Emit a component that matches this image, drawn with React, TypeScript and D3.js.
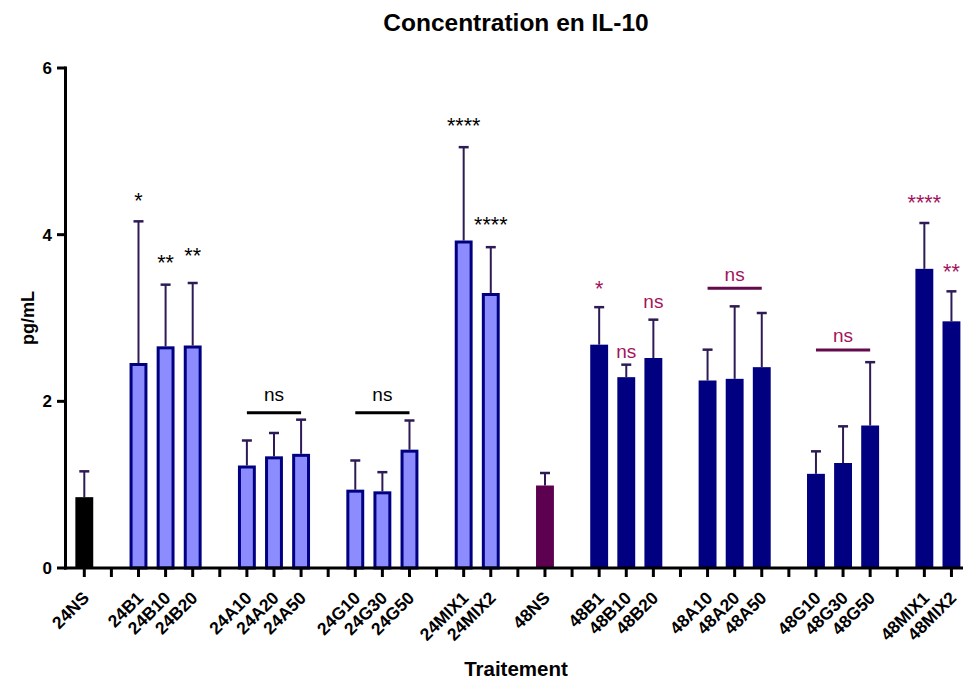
import React from "react";
import * as d3 from "d3";

const categories = [
  "24NS", "", "24B1", "24B10", "24B20", "", "24A10", "24A20", "24A50", "",
  "24G10", "24G30", "24G50", "", "24MIX1", "24MIX2", "", "48NS", "",
  "48B1", "48B10", "48B20", "", "48A10", "48A20", "48A50", "",
  "48G10", "48G30", "48G50", "", "48MIX1", "48MIX2",
];
const groups = [
  "ctl24", "", "h24", "h24", "h24", "", "h24", "h24", "h24", "",
  "h24", "h24", "h24", "", "h24", "h24", "", "ctl48", "",
  "h48", "h48", "h48", "", "h48", "h48", "h48", "",
  "h48", "h48", "h48", "", "h48", "h48",
];
const means = [
  0.85, NaN, 2.46, 2.66, 2.67, NaN, 1.23, 1.34, 1.37, NaN,
  0.94, 0.92, 1.42, NaN, 3.93, 3.30, NaN, 0.99, NaN,
  2.68, 2.29, 2.52, NaN, 2.25, 2.27, 2.41, NaN,
  1.13, 1.26, 1.71, NaN, 3.59, 2.96,
];
const upper = [
  1.16, NaN, 4.16, 3.40, 3.42, NaN, 1.53, 1.62, 1.78, NaN,
  1.29, 1.15, 1.77, NaN, 5.05, 3.85, NaN, 1.14, NaN,
  3.13, 2.44, 2.98, NaN, 2.62, 3.14, 3.06, NaN,
  1.40, 1.70, 2.47, NaN, 4.14, 3.32,
];
const yTicks = [0, 2, 4, 6];

// single-bar significance labels (category, text, y in data units, series)
const starCats = ["24B1", "24B10", "24B20", "24MIX1", "24MIX2", "48B1", "48MIX1", "48MIX2"];
const starTexts = ["*", "**", "**", "****", "****", "*", "****", "**"];
const starY = [4.32, 3.58, 3.66, 5.22, 4.03, 3.27, 4.3, 3.47];
const starSeries = ["h24", "h24", "h24", "h24", "h24", "h48", "h48", "h48"];

const nsCats = ["48B10", "48B20"];
const nsY = [2.525, 3.125];

// bracket "ns" labels (from, to, line y, text y, series)
const brFrom = ["24A10", "24G10", "48A10", "48G10"];
const brTo = ["24A50", "24G50", "48A50", "48G50"];
const brLineY = [1.864, 1.864, 3.356, 2.616];
const brTextY = [2.0, 2.0, 3.44, 2.717];
const brSeries = ["h24", "h24", "h48", "h48"];

const W = 963;
const H = 681;
const FONT = "'Liberation Sans', Arial, Helvetica, sans-serif";
const ERR = "#2e1b55";
const TXT48 = "#a3135d";
const LINE48 = "#620a4c";

export default function App() {
  const slots = categories.map((_, i) => String(i));
  const x = d3.scaleBand<string>().domain(slots).range([70.75, 965]).padding(0);
  const y = d3.scaleLinear().domain([0, 6]).range([568, 68]);
  const cx = (i: number) => (x(String(i)) as number) + x.bandwidth() / 2;
  const cxCat = (c: string) => cx(categories.indexOf(c));
  const bw = x.bandwidth() * 0.66;

  const fillOf = (g: string) =>
    g === "ctl24" ? "#000000" : g === "ctl48" ? "#5e0050" : g === "h24" ? "#8c8cff" : "#000080";
  const strokeOf = (g: string) =>
    g === "ctl24" ? "#000000" : g === "ctl48" ? "#5e0050" : "#000080";

  return (
    <svg width={W} height={H} style={{ position: "absolute", left: 0, top: 0 }} fontFamily={FONT}>
      <rect width={W} height={H} fill="#fff" />
      <text x={516} y={31} textAnchor="middle" fontSize={24.5} fontWeight="bold">
        Concentration en IL-10
      </text>
      <text
        transform={`translate(34,${(y(0) + y(6)) / 2}) rotate(-90)`}
        textAnchor="middle"
        fontSize={18}
        fontWeight="bold"
      >
        pg/mL
      </text>
      <text x={516} y={676} textAnchor="middle" fontSize={20.5} fontWeight="bold">
        Traitement
      </text>

      {/* bars */}
      {categories.map((c, i) => {
        if (!c) return null;
        const g = groups[i];
        const outlined = g === "h24";
        const top = y(means[i]);
        const xc = cx(i);
        const sw = outlined ? 3 : 0;
        return (
          <g key={"b" + i}>
            <line x1={xc} x2={xc} y1={top} y2={y(upper[i])} stroke={ERR} strokeWidth={2} />
            <line x1={xc - 5} x2={xc + 5} y1={y(upper[i])} y2={y(upper[i])} stroke={ERR} strokeWidth={2.5} />
            <rect
              x={xc - bw / 2 + sw / 2}
              y={top + sw / 2}
              width={bw - sw}
              height={y(0) - top - sw / 2}
              fill={fillOf(g)}
              stroke={outlined ? strokeOf(g) : "none"}
              strokeWidth={sw}
            />
          </g>
        );
      })}

      {/* axes */}
      <line x1={65.5} x2={65.5} y1={y(6) - 1.5} y2={y(0) + 1.5} stroke="#000" strokeWidth={3} />
      {yTicks.map((t) => (
        <g key={"yt" + t}>
          <line x1={57} x2={65.5} y1={y(t)} y2={y(t)} stroke="#000" strokeWidth={3} />
          <text x={52} y={y(t) + 6} textAnchor="end" fontSize={17} fontWeight="bold">
            {t}
          </text>
        </g>
      ))}
      <line x1={64} x2={W} y1={y(0)} y2={y(0)} stroke="#000" strokeWidth={3} />
      {categories.map((c, i) => (
        <g key={"xt" + i}>
          <line x1={cx(i)} x2={cx(i)} y1={y(0)} y2={y(0) + 9} stroke="#000" strokeWidth={3} />
          {c && (
            <text
              transform={`translate(${cx(i) + 6},${599}) rotate(-45)`}
              textAnchor="end"
              fontSize={17.5}
              fontWeight="bold"
            >
              {c}
            </text>
          )}
        </g>
      ))}

      {/* significance */}
      {starCats.map((c, k) => (
        <text
          key={"s" + k}
          x={cxCat(c)}
          y={y(starY[k])}
          textAnchor="middle"
          fontSize={21.5}
          fill={starSeries[k] === "h48" ? TXT48 : "#000"}
        >
          {starTexts[k]}
        </text>
      ))}
      {nsCats.map((c, k) => (
        <text key={"n" + k} x={cxCat(c)} y={y(nsY[k])} textAnchor="middle" fontSize={19} fill={TXT48}>
          ns
        </text>
      ))}
      {brFrom.map((f, k) => {
        const x1 = cxCat(f);
        const x2 = cxCat(brTo[k]);
        const is48 = brSeries[k] === "h48";
        return (
          <g key={"br" + k}>
            <line x1={x1} x2={x2} y1={y(brLineY[k])} y2={y(brLineY[k])} stroke={is48 ? LINE48 : "#000"} strokeWidth={3} />
            <text x={(x1 + x2) / 2} y={y(brTextY[k])} textAnchor="middle" fontSize={19} fill={is48 ? TXT48 : "#000"}>
              ns
            </text>
          </g>
        );
      })}
    </svg>
  );
}
